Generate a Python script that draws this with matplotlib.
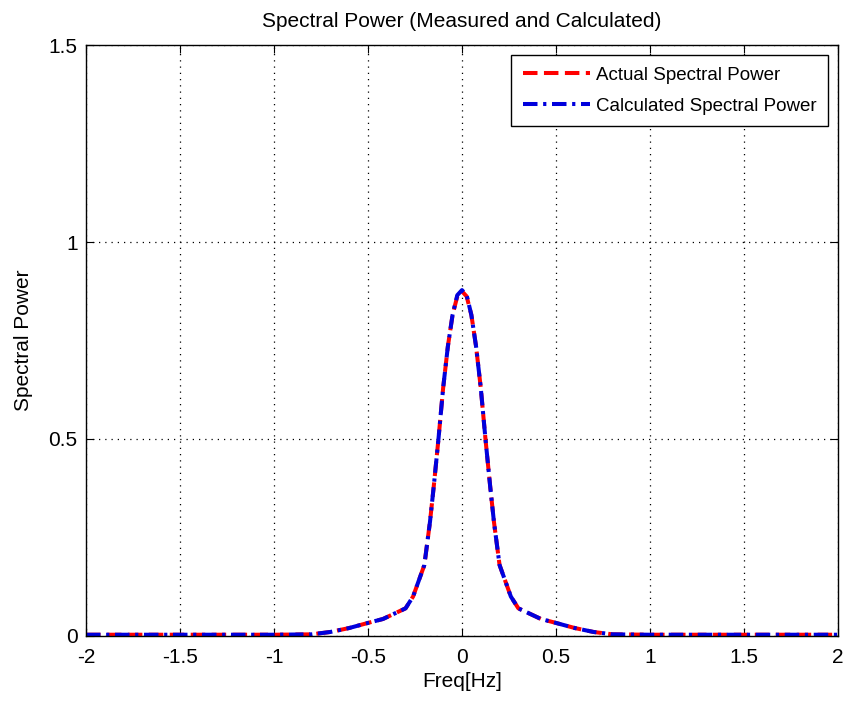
import numpy as np
import matplotlib
matplotlib.use("Agg")
import matplotlib.pyplot as plt

# -----------------------------
# Data
# -----------------------------
freq = [-2.0, -1.5, -1.0, -0.8, -0.7, -0.6, -0.5, -0.42, -0.3, -0.26, -0.2,
        -0.17, -0.15, -0.125, -0.1, -0.075, -0.05, -0.025, 0.0,
        0.025, 0.05, 0.075, 0.1, 0.125, 0.15, 0.17, 0.2, 0.26, 0.3,
        0.42, 0.5, 0.6, 0.7, 0.8, 1.0, 1.5, 2.0]
actual_power = [0.003, 0.003, 0.003, 0.004, 0.01, 0.02, 0.033, 0.043, 0.07, 0.10, 0.18,
                0.29, 0.38, 0.50, 0.63, 0.735, 0.815, 0.862, 0.875,
                0.862, 0.815, 0.735, 0.63, 0.50, 0.38, 0.29, 0.18, 0.10, 0.07,
                0.043, 0.033, 0.02, 0.01, 0.004, 0.003, 0.003, 0.003]
calc_power = [0.003, 0.003, 0.003, 0.004, 0.01, 0.02, 0.033, 0.043, 0.07, 0.10, 0.18,
              0.29, 0.38, 0.50, 0.63, 0.735, 0.815, 0.865, 0.878,
              0.865, 0.815, 0.735, 0.63, 0.50, 0.38, 0.29, 0.18, 0.10, 0.07,
              0.043, 0.033, 0.02, 0.01, 0.004, 0.003, 0.003, 0.003]

plt.rcParams['font.family'] = ['Liberation Sans', 'DejaVu Sans']

fig = plt.figure(figsize=(8.43, 7.05), dpi=100)
ax = fig.add_axes([0.102, 0.098, 0.892, 0.838])

# actual = red dashed, calculated = blue dash-dot on top
ax.plot(freq, actual_power, color='red', linestyle=(0, (3.6, 1.6)), linewidth=2.9,
        label='Actual Spectral Power')
ax.plot(freq, calc_power, color='#0000dd', linestyle=(0, (3.6, 1.4, 0.8, 1.4)), linewidth=2.9,
        label='Calculated Spectral Power')

ax.set_xlim(-2, 2)
ax.set_ylim(0, 1.5)
ax.set_xticks(np.arange(-2, 2.01, 0.5))
ax.set_xticklabels(['-2', '-1.5', '-1', '-0.5', '0', '0.5', '1', '1.5', '2'])
ax.set_yticks([0, 0.5, 1, 1.5])
ax.set_yticklabels(['0', '0.5', '1', '1.5'])
ax.tick_params(direction='in', length=6, top=True, right=True, labelsize=15)
ax.tick_params(axis='x', pad=9)
ax.tick_params(axis='y', pad=6)

ax.grid(True, linestyle=(0, (1, 4)), color='black', linewidth=0.9)
for s in ax.spines.values():
    s.set_linewidth(1.0)

ax.set_title('Spectral Power (Measured and Calculated)', fontsize=15, pad=13)
ax.set_xlabel('Freq[Hz]', fontsize=15, labelpad=3)
ax.set_ylabel('Spectral Power', fontsize=15, labelpad=11)

leg = ax.legend(loc='upper right', fontsize=13.5, frameon=True, fancybox=False,
                edgecolor='black', framealpha=1, handlelength=3.6,
                borderaxespad=0.55, handletextpad=0.3, borderpad=0.6,
                labelspacing=0.75)
leg.get_frame().set_linewidth(1.0)

fig.savefig('out.png', dpi=100)
